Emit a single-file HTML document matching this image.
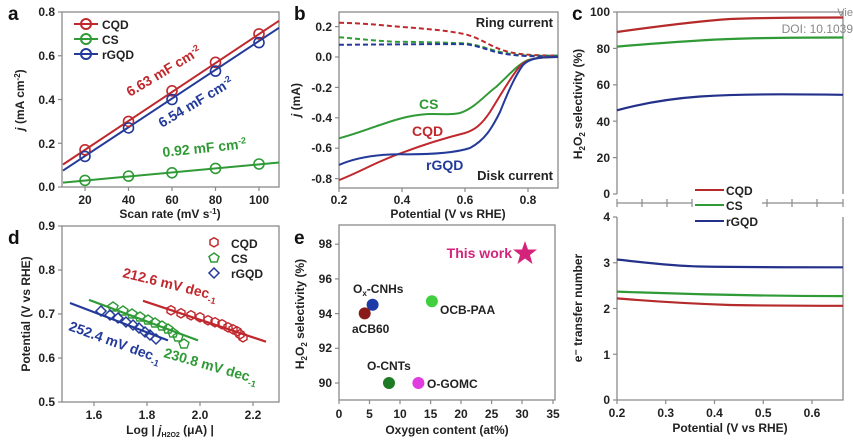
<!DOCTYPE html>
<html><head><meta charset="utf-8"><style>
html,body{margin:0;padding:0;background:#fff}
svg{display:block}
text{font-family:"Liberation Sans",Arial,sans-serif;font-weight:bold}
.t{font-size:12px;fill:#222}
.ax{font-size:12px;fill:#222}
.L{font-size:19px;fill:#111}
.box{fill:none;stroke:#8a8a8a;stroke-width:1.3}
.tk{stroke:#8a8a8a;stroke-width:1.2}
</style></head><body>
<svg width="853" height="447" viewBox="0 0 853 447" xmlns="http://www.w3.org/2000/svg">
<!-- ========== Panel a ========== -->
<text class="L" x="8" y="20">a</text>
<rect class="box" x="62" y="12" width="217" height="175"/>
<g class="tk">
<line x1="62" y1="12" x2="58" y2="12"/><line x1="62" y1="55.75" x2="58" y2="55.75"/><line x1="62" y1="99.5" x2="58" y2="99.5"/><line x1="62" y1="143.25" x2="58" y2="143.25"/><line x1="62" y1="187" x2="58" y2="187"/>
<line x1="85" y1="187" x2="85" y2="191"/><line x1="128.5" y1="187" x2="128.5" y2="191"/><line x1="172" y1="187" x2="172" y2="191"/><line x1="215.5" y1="187" x2="215.5" y2="191"/><line x1="259" y1="187" x2="259" y2="191"/>
</g>
<g class="t" text-anchor="end">
<text x="55" y="16">0.8</text><text x="55" y="60">0.6</text><text x="55" y="104">0.4</text><text x="55" y="148">0.2</text><text x="55" y="191">0.0</text>
</g>
<g class="t" text-anchor="middle">
<text x="85" y="204">20</text><text x="128.5" y="204">40</text><text x="172" y="204">60</text><text x="215.5" y="204">80</text><text x="259" y="204">100</text>
</g>
<text class="ax" x="170" y="218" text-anchor="middle">Scan rate (mV s<tspan dy="-4" font-size="8">-1</tspan><tspan dy="4">)</tspan></text>
<text class="ax" transform="translate(24,100) rotate(-90)" text-anchor="middle"><tspan font-style="italic">j</tspan> (mA cm<tspan dy="-4" font-size="8">-2</tspan><tspan dy="4">)</tspan></text>
<g fill="none" stroke-width="2">
<line x1="63" y1="164.5" x2="279" y2="20.8" stroke="#c0282d"/>
<line x1="63" y1="170.6" x2="279" y2="27.8" stroke="#233a9a"/>
<line x1="63" y1="182.6" x2="279" y2="162.5" stroke="#2f9a36"/>
</g>
<g fill="none" stroke-width="1.6" stroke="#c0282d">
<circle cx="85" cy="149.8" r="5"/><circle cx="128.5" cy="121.4" r="5"/><circle cx="172" cy="90.8" r="5"/><circle cx="215.5" cy="62.3" r="5"/><circle cx="259" cy="33.9" r="5"/></g>
<g fill="none" stroke-width="1.6" stroke="#233a9a">
<circle cx="85" cy="156.4" r="5"/><circle cx="128.5" cy="127.9" r="5"/><circle cx="172" cy="99.5" r="5"/><circle cx="215.5" cy="71.1" r="5"/><circle cx="259" cy="42.6" r="5"/></g>
<g fill="none" stroke-width="1.6" stroke="#2f9a36">
<circle cx="85" cy="180.4" r="5"/><circle cx="128.5" cy="176.1" r="5"/><circle cx="172" cy="172.8" r="5"/><circle cx="215.5" cy="168.4" r="5"/><circle cx="259" cy="164" r="5"/></g>
<g stroke-width="2" fill="none">
<line x1="74" y1="24" x2="98" y2="24" stroke="#c0282d"/><circle cx="86" cy="24" r="5" stroke="#c0282d"/>
<line x1="74" y1="39" x2="98" y2="39" stroke="#2f9a36"/><circle cx="86" cy="39" r="5" stroke="#2f9a36"/>
<line x1="74" y1="54" x2="98" y2="54" stroke="#233a9a"/><circle cx="86" cy="54" r="5" stroke="#233a9a"/>
</g>
<g class="t" font-size="13"><text x="102" y="29">CQD</text><text x="102" y="44">CS</text><text x="102" y="59">rGQD</text></g>
<text transform="translate(130,97) rotate(-31)" font-size="14" fill="#c0282d">6.63 mF cm<tspan dy="-5" font-size="9">-2</tspan></text>
<text transform="translate(162,128) rotate(-31)" font-size="14" fill="#233a9a">6.54 mF cm<tspan dy="-5" font-size="9">-2</tspan></text>
<text transform="translate(163,157) rotate(-6)" font-size="14" fill="#2f9a36">0.92 mF cm<tspan dy="-5" font-size="9">-2</tspan></text>

<!-- ========== Panel b ========== -->
<text class="L" x="294" y="20">b</text>
<rect class="box" x="339" y="12" width="219" height="176"/>
<g class="tk">
<line x1="339" y1="26.6" x2="335" y2="26.6"/><line x1="339" y1="57" x2="335" y2="57"/><line x1="339" y1="87.4" x2="335" y2="87.4"/><line x1="339" y1="117.8" x2="335" y2="117.8"/><line x1="339" y1="148.2" x2="335" y2="148.2"/><line x1="339" y1="178.6" x2="335" y2="178.6"/>
<line x1="339" y1="188" x2="339" y2="192"/><line x1="402" y1="188" x2="402" y2="192"/><line x1="465" y1="188" x2="465" y2="192"/><line x1="528" y1="188" x2="528" y2="192"/>
</g>
<g class="t" text-anchor="end">
<text x="332" y="31">0.2</text><text x="332" y="61">0.0</text><text x="332" y="92">-0.2</text><text x="332" y="122">-0.4</text><text x="332" y="152">-0.6</text><text x="332" y="183">-0.8</text>
</g>
<g class="t" text-anchor="middle"><text x="339" y="204">0.2</text><text x="402" y="204">0.4</text><text x="465" y="204">0.6</text><text x="528" y="204">0.8</text></g>
<text class="ax" x="448" y="218" text-anchor="middle">Potential (V vs RHE)</text>
<text class="ax" transform="translate(300,100) rotate(-90)" text-anchor="middle"><tspan font-style="italic">j</tspan> (mA)</text>
<g fill="none" stroke-width="2" stroke-dasharray="5,3">
<path d="M339,22.8 C360,23 380,25 402,27 C430,29 450,31 465,34.2 C480,38 490,46 502,50 C515,54 525,55.5 558,55.5" stroke="#c0282d"/>
<path d="M339,37.2 C370,40 390,42 402,41.8 C430,42 450,43 465,43.3 C480,45 490,50 505,53 C520,56 530,56 558,55.5" stroke="#2f9a36"/>
<path d="M339,44.8 C380,44.5 430,44 465,44.1 C480,46 490,51 500,53 C515,56 530,56.5 558,56.5" stroke="#233a9a"/>
</g>
<g fill="none" stroke-width="2">
<path d="M339,138.3 C355,134 365,130 380,125 C400,118 415,114 433,114 C445,114 452,115 460,113 C475,108 485,95 496,87 C508,76 518,64 528,60 C540,57 550,57 558,57" stroke="#2f9a36"/>
<path d="M339,180.1 C360,172 380,160 402,152.8 C420,146 445,138 465,133 C475,130 482,124 490,112 C500,96 510,78 520,66 C528,58 540,57 558,57" stroke="#c0282d"/>
<path d="M339,164.9 C355,158 375,154 402,154.3 C430,154.5 455,153 470,148 C485,140 492,128 500,112 C508,92 515,76 523,65 C530,58 540,57 558,57" stroke="#233a9a"/>
</g>
<text x="553" y="27" font-size="13" text-anchor="end" fill="#222">Ring current</text>
<text x="553" y="180" font-size="13" text-anchor="end" fill="#222">Disk current</text>
<text x="419" y="109" font-size="14" fill="#2f9a36">CS</text>
<text x="412" y="136" font-size="14" fill="#c0282d">CQD</text>
<text x="426" y="170" font-size="14" fill="#233a9a">rGQD</text>

<!-- ========== Panel c ========== -->
<text class="L" x="572" y="20">c</text>
<path class="box" d="M617,194 L617,12 L843,12 L843,194"/>
<path class="box" d="M617,217 L617,400 L843,400 L843,217"/>
<g class="tk">
<line x1="617" y1="12" x2="613" y2="12"/><line x1="617" y1="48.4" x2="613" y2="48.4"/><line x1="617" y1="84.8" x2="613" y2="84.8"/><line x1="617" y1="121.2" x2="613" y2="121.2"/><line x1="617" y1="157.6" x2="613" y2="157.6"/><line x1="617" y1="194" x2="613" y2="194"/>
<line x1="617" y1="217" x2="613" y2="217"/><line x1="617" y1="262.75" x2="613" y2="262.75"/><line x1="617" y1="308.5" x2="613" y2="308.5"/><line x1="617" y1="354.25" x2="613" y2="354.25"/><line x1="617" y1="400" x2="613" y2="400"/>
<line x1="617" y1="400" x2="617" y2="404"/><line x1="665.75" y1="400" x2="665.75" y2="404"/><line x1="714.5" y1="400" x2="714.5" y2="404"/><line x1="763.25" y1="400" x2="763.25" y2="404"/><line x1="812" y1="400" x2="812" y2="404"/>
<line x1="617" y1="203" x2="692" y2="203"/><line x1="762" y1="203" x2="843" y2="203"/>
<line x1="617" y1="199" x2="617" y2="207"/><line x1="642" y1="199" x2="642" y2="207"/><line x1="667" y1="199" x2="667" y2="207"/><line x1="692" y1="199" x2="692" y2="207"/><line x1="767" y1="199" x2="767" y2="207"/><line x1="792" y1="199" x2="792" y2="207"/><line x1="817" y1="199" x2="817" y2="207"/><line x1="843" y1="199" x2="843" y2="207"/>
</g>
<g class="t" text-anchor="end">
<text x="610" y="16">100</text><text x="610" y="53">80</text><text x="610" y="89">60</text><text x="610" y="126">40</text><text x="610" y="162">20</text><text x="610" y="198">0</text>
<text x="610" y="221">4</text><text x="610" y="267">3</text><text x="610" y="313">2</text><text x="610" y="359">1</text><text x="610" y="404">0</text>
</g>
<g class="t" text-anchor="middle"><text x="617" y="417">0.2</text><text x="665.75" y="417">0.3</text><text x="714.5" y="417">0.4</text><text x="763.25" y="417">0.5</text><text x="812" y="417">0.6</text></g>
<text class="ax" x="730" y="432" text-anchor="middle">Potential (V vs RHE)</text>
<text class="ax" transform="translate(582,104) rotate(-90)" text-anchor="middle">H<tspan dy="3" font-size="8">2</tspan><tspan dy="-3">O</tspan><tspan dy="3" font-size="8">2</tspan><tspan dy="-3"> selectivity (%)</tspan></text>
<text class="ax" transform="translate(582,308) rotate(-90)" text-anchor="middle">e⁻ transfer number</text>
<g fill="none" stroke-width="2.2">
<path d="M617,32 C660,26 700,21 730,19 C770,17.5 800,17.5 843,17.5" stroke="#b52a2a"/>
<path d="M617,46.6 C660,43 700,40 730,39 C770,37.6 800,37.5 843,37.5" stroke="#2f9a36"/>
<path d="M617,110.3 C640,104 665,99 700,96.5 C740,94 780,94 843,94.8" stroke="#23318a"/>
<path d="M617,259.5 C640,262 670,266 700,266.5 C750,267.3 800,267.3 843,267.3" stroke="#23318a"/>
<path d="M617,291.6 C680,294 760,296 843,296.1" stroke="#2f9a36"/>
<path d="M617,298.4 C660,302 700,304 730,305 C780,305.8 810,305.8 843,305.8" stroke="#b52a2a"/>
</g>
<g stroke-width="2"><line x1="695" y1="190" x2="724" y2="190" stroke="#b52a2a"/><line x1="695" y1="205" x2="724" y2="205" stroke="#2f9a36"/><line x1="695" y1="221" x2="724" y2="221" stroke="#23318a"/></g>
<g class="t" font-size="13"><text x="726" y="195">CQD</text><text x="726" y="210">CS</text><text x="726" y="226">rGQD</text></g>
<text x="853" y="16" font-size="11" font-weight="normal" fill="#888" text-anchor="end" style="font-weight:normal">Vie</text>
<text x="853" y="33" font-size="12" fill="#888" text-anchor="end" style="font-weight:normal">DOI: 10.1039</text>

<!-- ========== Panel d ========== -->
<text class="L" x="8" y="244">d</text>
<rect class="box" x="62" y="226" width="217" height="176"/>
<g class="tk">
<line x1="62" y1="226" x2="58" y2="226"/><line x1="62" y1="270" x2="58" y2="270"/><line x1="62" y1="314" x2="58" y2="314"/><line x1="62" y1="358" x2="58" y2="358"/><line x1="62" y1="402" x2="58" y2="402"/>
<line x1="94" y1="402" x2="94" y2="406"/><line x1="147" y1="402" x2="147" y2="406"/><line x1="200" y1="402" x2="200" y2="406"/><line x1="253" y1="402" x2="253" y2="406"/>
</g>
<g class="t" text-anchor="end"><text x="55" y="230">0.9</text><text x="55" y="274">0.8</text><text x="55" y="318">0.7</text><text x="55" y="362">0.6</text><text x="55" y="406">0.5</text></g>
<g class="t" text-anchor="middle"><text x="94" y="419">1.6</text><text x="147" y="419">1.8</text><text x="200" y="419">2.0</text><text x="253" y="419">2.2</text></g>
<text class="ax" x="170" y="434" text-anchor="middle">Log | <tspan font-style="italic">j</tspan><tspan dy="3" font-size="7">H2O2</tspan><tspan dy="-3"> (μA) |</tspan></text>
<text class="ax" transform="translate(30,314) rotate(-90)" text-anchor="middle">Potential (V vs RHE)</text>
<g stroke-width="2.2">
<line x1="143" y1="300.8" x2="266" y2="341.7" stroke="#c0282d"/>
<line x1="89" y1="299.9" x2="198" y2="340.4" stroke="#2f9a36"/>
<line x1="70" y1="303" x2="168" y2="340.4" stroke="#233a9a"/>
</g>
<g fill="none" stroke-width="1.4" stroke="#c0282d">
<polygon points="167,308 171,305.7 175,308 175,312.6 171,314.9 167,312.6"/>
<polygon points="177,311 181,308.7 185,311 185,315.6 181,317.9 177,315.6"/>
<polygon points="187,313 191,310.7 195,313 195,317.6 191,319.9 187,317.6"/>
<polygon points="196,315 200,312.7 204,315 204,319.6 200,321.9 196,319.6"/>
<polygon points="204,318 208,315.7 212,318 212,322.6 208,324.9 204,322.6"/>
<polygon points="211,320 215,317.7 219,320 219,324.6 215,326.9 211,324.6"/>
<polygon points="218,322 222,319.7 226,322 226,326.6 222,328.9 218,326.6"/>
<polygon points="224,325 228,322.7 232,325 232,329.6 228,331.9 224,329.6"/>
<polygon points="229,327 233,324.7 237,327 237,331.6 233,333.9 229,331.6"/>
<polygon points="233,329 237,326.7 241,329 241,333.6 237,335.9 233,333.6"/>
<polygon points="236,332 240,329.7 244,332 244,336.6 240,338.9 236,336.6"/>
<polygon points="239,335 243,332.7 247,335 247,339.6 243,341.9 239,339.6"/>
</g>
<g fill="none" stroke-width="1.4" stroke="#2f9a36">
<polygon points="113,302 118,305.5 116,311 110,311 108,305.5"/>
<polygon points="123,306 128,309.5 126,315 120,315 118,309.5"/>
<polygon points="132,309 137,312.5 135,318 129,318 127,312.5"/>
<polygon points="140,312 145,315.5 143,321 137,321 135,315.5"/>
<polygon points="148,315 153,318.5 151,324 145,324 143,318.5"/>
<polygon points="155,318 160,321.5 158,327 152,327 150,321.5"/>
<polygon points="162,321 167,324.5 165,330 159,330 157,324.5"/>
<polygon points="168,324 173,327.5 171,333 165,333 163,327.5"/>
<polygon points="173,328 178,331.5 176,337 170,337 168,331.5"/>
<polygon points="178,332 183,335.5 181,341 175,341 173,335.5"/>
<polygon points="184,339 189,342.5 187,348 181,348 179,342.5"/>
</g>
<g fill="none" stroke-width="1.5" stroke="#233a9a">
<polygon points="101,306 106,311 101,316 96,311"/>
<polygon points="110,310 115,315 110,320 105,315"/>
<polygon points="118,313 123,318 118,323 113,318"/>
<polygon points="126,317 131,322 126,327 121,322"/>
<polygon points="133,320 138,325 133,330 128,325"/>
<polygon points="139,323 144,328 139,333 134,328"/>
<polygon points="145,327 150,332 145,337 140,332"/>
<polygon points="150,330 155,335 150,340 145,335"/>
<polygon points="156,334 161,339 156,344 151,339"/>
</g>
<polygon points="210,240 214,237.7 218,240 218,244.6 214,246.9 210,244.6" fill="none" stroke="#c0282d" stroke-width="1.5"/>
<polygon points="214,253 219,256.5 217,262 211,262 209,256.5" fill="none" stroke="#2f9a36" stroke-width="1.5"/>
<polygon points="214,268 219,273 214,278 209,273" fill="none" stroke="#233a9a" stroke-width="1.5"/>
<g class="t" font-size="13"><text x="231" y="248">CQD</text><text x="231" y="263">CS</text><text x="231" y="278">rGQD</text></g>
<text transform="translate(122,277) rotate(14)" font-size="14" fill="#c0282d">212.6 mV dec<tspan dy="4" font-size="9">-1</tspan></text>
<text transform="translate(68,330) rotate(20)" font-size="14" fill="#233a9a">252.4 mV dec<tspan dy="4" font-size="9">-1</tspan></text>
<text transform="translate(163,357) rotate(16)" font-size="14" fill="#2f9a36">230.8 mV dec<tspan dy="4" font-size="9">-1</tspan></text>

<!-- ========== Panel e ========== -->
<text class="L" x="294" y="244">e</text>
<rect class="box" x="339" y="225" width="216" height="175"/>
<g class="tk">
<line x1="339" y1="244.2" x2="335" y2="244.2"/><line x1="339" y1="278.9" x2="335" y2="278.9"/><line x1="339" y1="313.6" x2="335" y2="313.6"/><line x1="339" y1="348.3" x2="335" y2="348.3"/><line x1="339" y1="383" x2="335" y2="383"/>
<line x1="339" y1="400" x2="339" y2="404"/><line x1="369.5" y1="400" x2="369.5" y2="404"/><line x1="400" y1="400" x2="400" y2="404"/><line x1="430.6" y1="400" x2="430.6" y2="404"/><line x1="461" y1="400" x2="461" y2="404"/><line x1="491.6" y1="400" x2="491.6" y2="404"/><line x1="522" y1="400" x2="522" y2="404"/><line x1="553" y1="400" x2="553" y2="404"/>
</g>
<g class="t" text-anchor="end"><text x="332" y="248">98</text><text x="332" y="283">96</text><text x="332" y="318">94</text><text x="332" y="352">92</text><text x="332" y="387">90</text></g>
<g class="t" text-anchor="middle"><text x="339" y="418">0</text><text x="369.5" y="418">5</text><text x="400" y="418">10</text><text x="430.6" y="418">15</text><text x="461" y="418">20</text><text x="491.6" y="418">25</text><text x="522" y="418">30</text><text x="553" y="418">35</text></g>
<text class="ax" x="447" y="434" text-anchor="middle">Oxygen content (at%)</text>
<text class="ax" transform="translate(304,314) rotate(-90)" text-anchor="middle">H<tspan dy="3" font-size="8">2</tspan><tspan dy="-3">O</tspan><tspan dy="3" font-size="8">2</tspan><tspan dy="-3"> selectivity (%)</tspan></text>
<polygon points="525,241 528,249.5 537,249.5 530,255 532.5,264 525,258.5 517.5,264 520,255 513,249.5 522,249.5" fill="#d4237a"/>
<text x="512" y="258" font-size="14" fill="#d4237a" text-anchor="end">This work</text>
<circle cx="372.6" cy="304.7" r="6" fill="#1c3aa8"/>
<circle cx="364.7" cy="313.4" r="6" fill="#8a1a1a"/>
<circle cx="431.9" cy="301.2" r="6" fill="#3fcf3f"/>
<circle cx="389" cy="383" r="6" fill="#1e7a24"/>
<circle cx="418.4" cy="383" r="6" fill="#e03ce0"/>
<g class="t" font-size="13">
<text x="353" y="293">O<tspan dy="3" font-size="8">x</tspan><tspan dy="-3">-CNHs</tspan></text>
<text x="352" y="333">aCB60</text>
<text x="440" y="314">OCB-PAA</text>
<text x="367" y="370">O-CNTs</text>
<text x="427" y="388">O-GOMC</text>
</g>
</svg>
</body></html>
